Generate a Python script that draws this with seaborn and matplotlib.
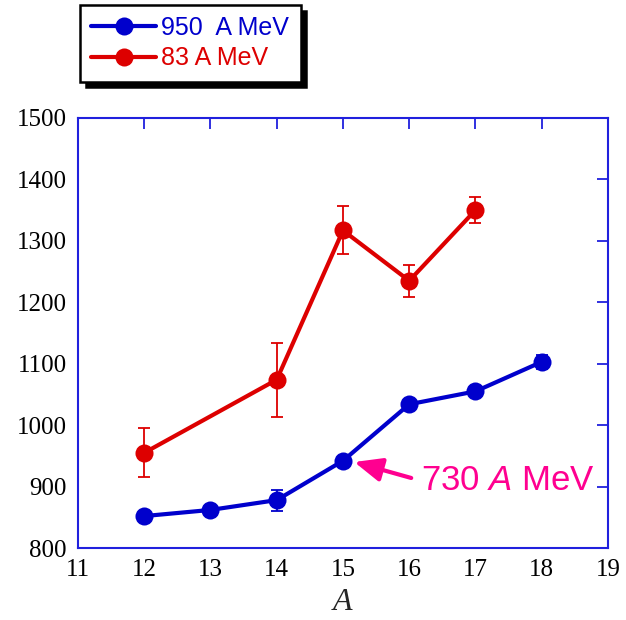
import numpy as np
import pandas as pd
import seaborn as sns
import matplotlib.pyplot as plt

# Mass number and measured values for each beam energy
a_950 = [12, 13, 14, 15, 16, 17, 18]
e_950 = [852, 862, 878, 942, 1034, 1055, 1103]
err_950 = [6, 6, 17, 6, 6, 6, 12]

a_83 = [12, 14, 15, 16, 17]
e_83 = [955, 1074, 1317, 1235, 1350]
err_83 = [40, 60, 39, 26, 21]

labels = ["950  A MeV", "83 A MeV"]
colors = ["#0000cc", "#dd0000"]
x_ticks = list(range(11, 20))
y_ticks = list(range(800, 1501, 100))

df = pd.concat([
    pd.DataFrame({"A": a_950, "E": e_950, "err": err_950, "beam": labels[0]}),
    pd.DataFrame({"A": a_83, "E": e_83, "err": err_83, "beam": labels[1]}),
], ignore_index=True)

sns.set_theme(style="white")
plt.rcParams["font.family"] = ["Liberation Serif", "DejaVu Serif"]
plt.rcParams["mathtext.fontset"] = "custom"
plt.rcParams["mathtext.it"] = "Liberation Sans:italic"
plt.rcParams["mathtext.rm"] = "Liberation Sans"

fig = plt.figure(figsize=(6.26, 6.2), dpi=100)
ax = fig.add_axes([0.1246, 0.1161, 0.8466, 0.6936])

sns.lineplot(data=df, x="A", y="E", hue="beam", hue_order=labels,
             palette=colors, marker="o", markersize=13, markeredgewidth=0,
             linewidth=3, ax=ax, legend=True, zorder=3)

for lab, col in zip(labels, colors):
    sub = df[df["beam"] == lab]
    ax.errorbar(sub["A"], sub["E"], yerr=sub["err"], fmt="none",
                ecolor=col, elinewidth=1.3, capsize=4, capthick=1.3, zorder=2)

ax.set_xlim(11, 19)
ax.set_ylim(800, 1500)
ax.set_xticks(x_ticks)
ax.set_yticks(y_ticks)
ax.tick_params(direction="in", length=8, width=1.3, color="#2020dd",
               top=True, right=True, labelsize=18, pad=8, colors="#2020dd",
               labelcolor="black")
for s in ax.spines.values():
    s.set_color("#2020dd")
    s.set_linewidth(1.5)
ax.set_xlabel("A", fontsize=23, style="italic", labelpad=5)
ax.set_ylabel("")

# Label for the A=15 point, with an arrow pointing at it
pink = "#ff0090"
ax.text(16.18, 910, "730 $\\mathit{A}$ MeV", fontsize=25, color=pink,
        family="Liberation Sans", ha="left", va="center")
ax.annotate("", xy=(15.17, 940), xytext=(16.03, 914),
            arrowprops=dict(arrowstyle="-|>,head_length=1.4,head_width=0.6",
                            color=pink, lw=3, shrinkA=0, shrinkB=0))

handles, labs = ax.get_legend_handles_labels()
ax.get_legend().remove()
leg = fig.legend(handles, labs, loc="upper left", bbox_to_anchor=(0.128, 0.992),
                 frameon=True, fancybox=False, edgecolor="black",
                 shadow={"color": "black", "alpha": 1, "ox": 4, "oy": -4},
                 prop={"family": "Liberation Sans", "size": 18},
                 handlelength=2.6, handletextpad=0.2, borderpad=0.45,
                 labelspacing=0.25, borderaxespad=0)
leg.get_frame().set_linewidth(1.8)
for txt, col in zip(leg.get_texts(), colors):
    txt.set_color(col)

fig.savefig("out.png", dpi=100)
